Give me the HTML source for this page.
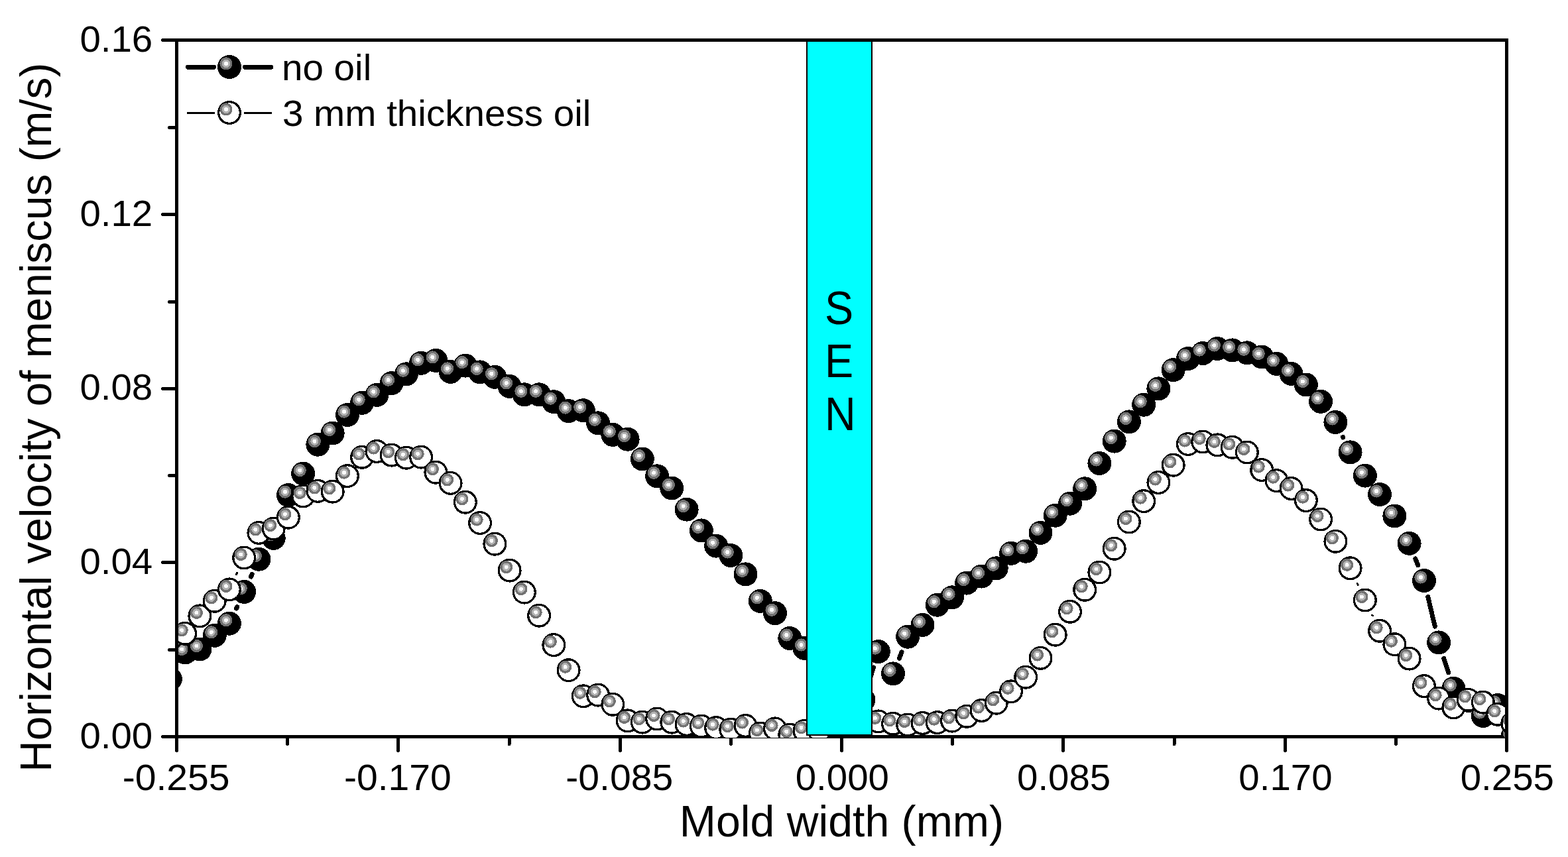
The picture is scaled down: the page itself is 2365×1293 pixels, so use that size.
<!DOCTYPE html>
<html lang="en"><head><meta charset="utf-8"><title>Horizontal velocity of meniscus</title>
<style>html,body{margin:0;padding:0;background:#fff}body{width:2365px;height:1293px;overflow:hidden}svg{display:block}text{font-family:"Liberation Sans",Arial,Helvetica,sans-serif;fill:#000}</style>
</head><body>
<svg width="2365" height="1293" viewBox="0 0 2365 1293" shape-rendering="crispEdges">
<defs>
<clipPath id="pc"><rect x="269" y="63" width="2001" height="1050"/></clipPath>
</defs>
<rect width="2365" height="1293" fill="#fff"/>
<path d="M264 1111.5H2275" stroke="#000" stroke-width="5" fill="none"/>
<path d="M266.5 1114V1132.5M433.7 1114V1122.5M600.8 1114V1132.5M768 1114V1122.5M935.2 1114V1132.5M1102.3 1114V1122.5M1269.5 1114V1132.5M1436.7 1114V1122.5M1603.8 1114V1132.5M1771 1114V1122.5M1938.2 1114V1132.5M2105.3 1114V1122.5M2272.5 1114V1132.5" stroke="#000" stroke-width="5" fill="none" stroke-linecap="round"/>
<g clip-path="url(#pc)">
<path d="M356.5 918L357.6 915.6M378.5 870.1L380.1 866.5M420.8 788.3L426.8 770.7M1309.8 1031.9L1317.4 1007M1356.3 993.2L1360 983.9M2025.4 659.4L2025.6 660M2134.8 843L2138.7 852.8M2153.7 900.3L2164.3 945.1M2177.7 993.2L2184.7 1014.9M2269.8 1086.6L2270.6 1088.4" fill="none" stroke="#000" stroke-width="7" stroke-linecap="round"/>
<circle cx="256.9" cy="1024.5" r="18"/><circle cx="251.9" cy="1019.5" r="9.6" fill="#727272"/><circle cx="251.9" cy="1019.5" r="6.1" fill="#b2b2b2"/><circle cx="251.9" cy="1019.5" r="3.0" fill="#fbfbfb"/>
<circle cx="279.2" cy="984.5" r="18"/><circle cx="274.2" cy="979.5" r="9.6" fill="#727272"/><circle cx="274.2" cy="979.5" r="6.1" fill="#b2b2b2"/><circle cx="274.2" cy="979.5" r="3.0" fill="#fbfbfb"/>
<circle cx="301.4" cy="979.5" r="18"/><circle cx="296.4" cy="974.5" r="9.6" fill="#727272"/><circle cx="296.4" cy="974.5" r="6.1" fill="#b2b2b2"/><circle cx="296.4" cy="974.5" r="3.0" fill="#fbfbfb"/>
<circle cx="323.7" cy="958.8" r="18"/><circle cx="318.7" cy="953.8" r="9.6" fill="#727272"/><circle cx="318.7" cy="953.8" r="6.1" fill="#b2b2b2"/><circle cx="318.7" cy="953.8" r="3.0" fill="#fbfbfb"/>
<circle cx="345.9" cy="940.7" r="18"/><circle cx="340.9" cy="935.7" r="9.6" fill="#727272"/><circle cx="340.9" cy="935.7" r="6.1" fill="#b2b2b2"/><circle cx="340.9" cy="935.7" r="3.0" fill="#fbfbfb"/>
<circle cx="368.2" cy="892.9" r="18"/><circle cx="363.2" cy="887.9" r="9.6" fill="#727272"/><circle cx="363.2" cy="887.9" r="6.1" fill="#b2b2b2"/><circle cx="363.2" cy="887.9" r="3.0" fill="#fbfbfb"/>
<circle cx="390.4" cy="843.7" r="18"/><circle cx="385.4" cy="838.7" r="9.6" fill="#727272"/><circle cx="385.4" cy="838.7" r="6.1" fill="#b2b2b2"/><circle cx="385.4" cy="838.7" r="3.0" fill="#fbfbfb"/>
<circle cx="412.7" cy="811.9" r="18"/><circle cx="407.7" cy="806.9" r="9.6" fill="#727272"/><circle cx="407.7" cy="806.9" r="6.1" fill="#b2b2b2"/><circle cx="407.7" cy="806.9" r="3.0" fill="#fbfbfb"/>
<circle cx="434.9" cy="747.1" r="18"/><circle cx="429.9" cy="742.1" r="9.6" fill="#727272"/><circle cx="429.9" cy="742.1" r="6.1" fill="#b2b2b2"/><circle cx="429.9" cy="742.1" r="3.0" fill="#fbfbfb"/>
<circle cx="457.2" cy="714.6" r="18"/><circle cx="452.2" cy="709.6" r="9.6" fill="#727272"/><circle cx="452.2" cy="709.6" r="6.1" fill="#b2b2b2"/><circle cx="452.2" cy="709.6" r="3.0" fill="#fbfbfb"/>
<circle cx="479.4" cy="670.7" r="18"/><circle cx="474.4" cy="665.7" r="9.6" fill="#727272"/><circle cx="474.4" cy="665.7" r="6.1" fill="#b2b2b2"/><circle cx="474.4" cy="665.7" r="3.0" fill="#fbfbfb"/>
<circle cx="501.7" cy="653.5" r="18"/><circle cx="496.7" cy="648.5" r="9.6" fill="#727272"/><circle cx="496.7" cy="648.5" r="6.1" fill="#b2b2b2"/><circle cx="496.7" cy="648.5" r="3.0" fill="#fbfbfb"/>
<circle cx="523.9" cy="626.1" r="18"/><circle cx="518.9" cy="621.1" r="9.6" fill="#727272"/><circle cx="518.9" cy="621.1" r="6.1" fill="#b2b2b2"/><circle cx="518.9" cy="621.1" r="3.0" fill="#fbfbfb"/>
<circle cx="546.1" cy="607.8" r="18"/><circle cx="541.1" cy="602.8" r="9.6" fill="#727272"/><circle cx="541.1" cy="602.8" r="6.1" fill="#b2b2b2"/><circle cx="541.1" cy="602.8" r="3.0" fill="#fbfbfb"/>
<circle cx="568.4" cy="595.9" r="18"/><circle cx="563.4" cy="590.9" r="9.6" fill="#727272"/><circle cx="563.4" cy="590.9" r="6.1" fill="#b2b2b2"/><circle cx="563.4" cy="590.9" r="3.0" fill="#fbfbfb"/>
<circle cx="590.6" cy="578.2" r="18"/><circle cx="585.6" cy="573.2" r="9.6" fill="#727272"/><circle cx="585.6" cy="573.2" r="6.1" fill="#b2b2b2"/><circle cx="585.6" cy="573.2" r="3.0" fill="#fbfbfb"/>
<circle cx="612.9" cy="564.3" r="18"/><circle cx="607.9" cy="559.3" r="9.6" fill="#727272"/><circle cx="607.9" cy="559.3" r="6.1" fill="#b2b2b2"/><circle cx="607.9" cy="559.3" r="3.0" fill="#fbfbfb"/>
<circle cx="635.1" cy="547.8" r="18"/><circle cx="630.1" cy="542.8" r="9.6" fill="#727272"/><circle cx="630.1" cy="542.8" r="6.1" fill="#b2b2b2"/><circle cx="630.1" cy="542.8" r="3.0" fill="#fbfbfb"/>
<circle cx="657.4" cy="543.9" r="18"/><circle cx="652.4" cy="538.9" r="9.6" fill="#727272"/><circle cx="652.4" cy="538.9" r="6.1" fill="#b2b2b2"/><circle cx="652.4" cy="538.9" r="3.0" fill="#fbfbfb"/>
<circle cx="679.6" cy="560.9" r="18"/><circle cx="674.6" cy="555.9" r="9.6" fill="#727272"/><circle cx="674.6" cy="555.9" r="6.1" fill="#b2b2b2"/><circle cx="674.6" cy="555.9" r="3.0" fill="#fbfbfb"/>
<circle cx="701.9" cy="551.6" r="18"/><circle cx="696.9" cy="546.6" r="9.6" fill="#727272"/><circle cx="696.9" cy="546.6" r="6.1" fill="#b2b2b2"/><circle cx="696.9" cy="546.6" r="3.0" fill="#fbfbfb"/>
<circle cx="724.1" cy="561.4" r="18"/><circle cx="719.1" cy="556.4" r="9.6" fill="#727272"/><circle cx="719.1" cy="556.4" r="6.1" fill="#b2b2b2"/><circle cx="719.1" cy="556.4" r="3.0" fill="#fbfbfb"/>
<circle cx="746.4" cy="568.8" r="18"/><circle cx="741.4" cy="563.8" r="9.6" fill="#727272"/><circle cx="741.4" cy="563.8" r="6.1" fill="#b2b2b2"/><circle cx="741.4" cy="563.8" r="3.0" fill="#fbfbfb"/>
<circle cx="768.6" cy="582.9" r="18"/><circle cx="763.6" cy="577.9" r="9.6" fill="#727272"/><circle cx="763.6" cy="577.9" r="6.1" fill="#b2b2b2"/><circle cx="763.6" cy="577.9" r="3.0" fill="#fbfbfb"/>
<circle cx="790.9" cy="595.3" r="18"/><circle cx="785.9" cy="590.3" r="9.6" fill="#727272"/><circle cx="785.9" cy="590.3" r="6.1" fill="#b2b2b2"/><circle cx="785.9" cy="590.3" r="3.0" fill="#fbfbfb"/>
<circle cx="813.1" cy="595.3" r="18"/><circle cx="808.1" cy="590.3" r="9.6" fill="#727272"/><circle cx="808.1" cy="590.3" r="6.1" fill="#b2b2b2"/><circle cx="808.1" cy="590.3" r="3.0" fill="#fbfbfb"/>
<circle cx="835.3" cy="606.2" r="18"/><circle cx="830.3" cy="601.2" r="9.6" fill="#727272"/><circle cx="830.3" cy="601.2" r="6.1" fill="#b2b2b2"/><circle cx="830.3" cy="601.2" r="3.0" fill="#fbfbfb"/>
<circle cx="857.6" cy="620.1" r="18"/><circle cx="852.6" cy="615.1" r="9.6" fill="#727272"/><circle cx="852.6" cy="615.1" r="6.1" fill="#b2b2b2"/><circle cx="852.6" cy="615.1" r="3.0" fill="#fbfbfb"/>
<circle cx="879.8" cy="619.2" r="18"/><circle cx="874.8" cy="614.2" r="9.6" fill="#727272"/><circle cx="874.8" cy="614.2" r="6.1" fill="#b2b2b2"/><circle cx="874.8" cy="614.2" r="3.0" fill="#fbfbfb"/>
<circle cx="902.1" cy="638.3" r="18"/><circle cx="897.1" cy="633.3" r="9.6" fill="#727272"/><circle cx="897.1" cy="633.3" r="6.1" fill="#b2b2b2"/><circle cx="897.1" cy="633.3" r="3.0" fill="#fbfbfb"/>
<circle cx="924.3" cy="655.9" r="18"/><circle cx="919.3" cy="650.9" r="9.6" fill="#727272"/><circle cx="919.3" cy="650.9" r="6.1" fill="#b2b2b2"/><circle cx="919.3" cy="650.9" r="3.0" fill="#fbfbfb"/>
<circle cx="946.6" cy="662.7" r="18"/><circle cx="941.6" cy="657.7" r="9.6" fill="#727272"/><circle cx="941.6" cy="657.7" r="6.1" fill="#b2b2b2"/><circle cx="941.6" cy="657.7" r="3.0" fill="#fbfbfb"/>
<circle cx="968.8" cy="692.5" r="18"/><circle cx="963.8" cy="687.5" r="9.6" fill="#727272"/><circle cx="963.8" cy="687.5" r="6.1" fill="#b2b2b2"/><circle cx="963.8" cy="687.5" r="3.0" fill="#fbfbfb"/>
<circle cx="991.1" cy="718.3" r="18"/><circle cx="986.1" cy="713.3" r="9.6" fill="#727272"/><circle cx="986.1" cy="713.3" r="6.1" fill="#b2b2b2"/><circle cx="986.1" cy="713.3" r="3.0" fill="#fbfbfb"/>
<circle cx="1013.3" cy="736.5" r="18"/><circle cx="1008.3" cy="731.5" r="9.6" fill="#727272"/><circle cx="1008.3" cy="731.5" r="6.1" fill="#b2b2b2"/><circle cx="1008.3" cy="731.5" r="3.0" fill="#fbfbfb"/>
<circle cx="1035.6" cy="768.6" r="18"/><circle cx="1030.6" cy="763.6" r="9.6" fill="#727272"/><circle cx="1030.6" cy="763.6" r="6.1" fill="#b2b2b2"/><circle cx="1030.6" cy="763.6" r="3.0" fill="#fbfbfb"/>
<circle cx="1057.8" cy="800.4" r="18"/><circle cx="1052.8" cy="795.4" r="9.6" fill="#727272"/><circle cx="1052.8" cy="795.4" r="6.1" fill="#b2b2b2"/><circle cx="1052.8" cy="795.4" r="3.0" fill="#fbfbfb"/>
<circle cx="1080.1" cy="823.6" r="18"/><circle cx="1075.1" cy="818.6" r="9.6" fill="#727272"/><circle cx="1075.1" cy="818.6" r="6.1" fill="#b2b2b2"/><circle cx="1075.1" cy="818.6" r="3.0" fill="#fbfbfb"/>
<circle cx="1102.3" cy="838" r="18"/><circle cx="1097.3" cy="833" r="9.6" fill="#727272"/><circle cx="1097.3" cy="833" r="6.1" fill="#b2b2b2"/><circle cx="1097.3" cy="833" r="3.0" fill="#fbfbfb"/>
<circle cx="1124.5" cy="866.4" r="18"/><circle cx="1119.5" cy="861.4" r="9.6" fill="#727272"/><circle cx="1119.5" cy="861.4" r="6.1" fill="#b2b2b2"/><circle cx="1119.5" cy="861.4" r="3.0" fill="#fbfbfb"/>
<circle cx="1146.8" cy="906.9" r="18"/><circle cx="1141.8" cy="901.9" r="9.6" fill="#727272"/><circle cx="1141.8" cy="901.9" r="6.1" fill="#b2b2b2"/><circle cx="1141.8" cy="901.9" r="3.0" fill="#fbfbfb"/>
<circle cx="1169" cy="925.2" r="18"/><circle cx="1164" cy="920.2" r="9.6" fill="#727272"/><circle cx="1164" cy="920.2" r="6.1" fill="#b2b2b2"/><circle cx="1164" cy="920.2" r="3.0" fill="#fbfbfb"/>
<circle cx="1191.3" cy="963" r="18"/><circle cx="1186.3" cy="958" r="9.6" fill="#727272"/><circle cx="1186.3" cy="958" r="6.1" fill="#b2b2b2"/><circle cx="1186.3" cy="958" r="3.0" fill="#fbfbfb"/>
<circle cx="1213.5" cy="978" r="18"/><circle cx="1208.5" cy="973" r="9.6" fill="#727272"/><circle cx="1208.5" cy="973" r="6.1" fill="#b2b2b2"/><circle cx="1208.5" cy="973" r="3.0" fill="#fbfbfb"/>
<circle cx="1235.8" cy="1000" r="18"/><circle cx="1230.8" cy="995" r="9.6" fill="#727272"/><circle cx="1230.8" cy="995" r="6.1" fill="#b2b2b2"/><circle cx="1230.8" cy="995" r="3.0" fill="#fbfbfb"/>
<circle cx="1258" cy="1020" r="18"/><circle cx="1253" cy="1015" r="9.6" fill="#727272"/><circle cx="1253" cy="1015" r="6.1" fill="#b2b2b2"/><circle cx="1253" cy="1015" r="3.0" fill="#fbfbfb"/>
<circle cx="1280.3" cy="1040" r="18"/><circle cx="1275.3" cy="1035" r="9.6" fill="#727272"/><circle cx="1275.3" cy="1035" r="6.1" fill="#b2b2b2"/><circle cx="1275.3" cy="1035" r="3.0" fill="#fbfbfb"/>
<circle cx="1302.5" cy="1055.8" r="18"/><circle cx="1297.5" cy="1050.8" r="9.6" fill="#727272"/><circle cx="1297.5" cy="1050.8" r="6.1" fill="#b2b2b2"/><circle cx="1297.5" cy="1050.8" r="3.0" fill="#fbfbfb"/>
<circle cx="1324.8" cy="983.1" r="18"/><circle cx="1319.8" cy="978.1" r="9.6" fill="#727272"/><circle cx="1319.8" cy="978.1" r="6.1" fill="#b2b2b2"/><circle cx="1319.8" cy="978.1" r="3.0" fill="#fbfbfb"/>
<circle cx="1347" cy="1016.4" r="18"/><circle cx="1342" cy="1011.4" r="9.6" fill="#727272"/><circle cx="1342" cy="1011.4" r="6.1" fill="#b2b2b2"/><circle cx="1342" cy="1011.4" r="3.0" fill="#fbfbfb"/>
<circle cx="1369.2" cy="960.7" r="18"/><circle cx="1364.2" cy="955.7" r="9.6" fill="#727272"/><circle cx="1364.2" cy="955.7" r="6.1" fill="#b2b2b2"/><circle cx="1364.2" cy="955.7" r="3.0" fill="#fbfbfb"/>
<circle cx="1391.5" cy="943" r="18"/><circle cx="1386.5" cy="938" r="9.6" fill="#727272"/><circle cx="1386.5" cy="938" r="6.1" fill="#b2b2b2"/><circle cx="1386.5" cy="938" r="3.0" fill="#fbfbfb"/>
<circle cx="1413.7" cy="912.7" r="18"/><circle cx="1408.7" cy="907.7" r="9.6" fill="#727272"/><circle cx="1408.7" cy="907.7" r="6.1" fill="#b2b2b2"/><circle cx="1408.7" cy="907.7" r="3.0" fill="#fbfbfb"/>
<circle cx="1436" cy="901.3" r="18"/><circle cx="1431" cy="896.3" r="9.6" fill="#727272"/><circle cx="1431" cy="896.3" r="6.1" fill="#b2b2b2"/><circle cx="1431" cy="896.3" r="3.0" fill="#fbfbfb"/>
<circle cx="1458.2" cy="879.6" r="18"/><circle cx="1453.2" cy="874.6" r="9.6" fill="#727272"/><circle cx="1453.2" cy="874.6" r="6.1" fill="#b2b2b2"/><circle cx="1453.2" cy="874.6" r="3.0" fill="#fbfbfb"/>
<circle cx="1480.5" cy="869.5" r="18"/><circle cx="1475.5" cy="864.5" r="9.6" fill="#727272"/><circle cx="1475.5" cy="864.5" r="6.1" fill="#b2b2b2"/><circle cx="1475.5" cy="864.5" r="3.0" fill="#fbfbfb"/>
<circle cx="1502.7" cy="857.3" r="18"/><circle cx="1497.7" cy="852.3" r="9.6" fill="#727272"/><circle cx="1497.7" cy="852.3" r="6.1" fill="#b2b2b2"/><circle cx="1497.7" cy="852.3" r="3.0" fill="#fbfbfb"/>
<circle cx="1525" cy="834.8" r="18"/><circle cx="1520" cy="829.8" r="9.6" fill="#727272"/><circle cx="1520" cy="829.8" r="6.1" fill="#b2b2b2"/><circle cx="1520" cy="829.8" r="3.0" fill="#fbfbfb"/>
<circle cx="1547.2" cy="831.7" r="18"/><circle cx="1542.2" cy="826.7" r="9.6" fill="#727272"/><circle cx="1542.2" cy="826.7" r="6.1" fill="#b2b2b2"/><circle cx="1542.2" cy="826.7" r="3.0" fill="#fbfbfb"/>
<circle cx="1569.5" cy="803.8" r="18"/><circle cx="1564.5" cy="798.8" r="9.6" fill="#727272"/><circle cx="1564.5" cy="798.8" r="6.1" fill="#b2b2b2"/><circle cx="1564.5" cy="798.8" r="3.0" fill="#fbfbfb"/>
<circle cx="1591.7" cy="777.7" r="18"/><circle cx="1586.7" cy="772.7" r="9.6" fill="#727272"/><circle cx="1586.7" cy="772.7" r="6.1" fill="#b2b2b2"/><circle cx="1586.7" cy="772.7" r="3.0" fill="#fbfbfb"/>
<circle cx="1614" cy="759.7" r="18"/><circle cx="1609" cy="754.7" r="9.6" fill="#727272"/><circle cx="1609" cy="754.7" r="6.1" fill="#b2b2b2"/><circle cx="1609" cy="754.7" r="3.0" fill="#fbfbfb"/>
<circle cx="1636.2" cy="737.3" r="18"/><circle cx="1631.2" cy="732.3" r="9.6" fill="#727272"/><circle cx="1631.2" cy="732.3" r="6.1" fill="#b2b2b2"/><circle cx="1631.2" cy="732.3" r="3.0" fill="#fbfbfb"/>
<circle cx="1658.4" cy="699" r="18"/><circle cx="1653.4" cy="694" r="9.6" fill="#727272"/><circle cx="1653.4" cy="694" r="6.1" fill="#b2b2b2"/><circle cx="1653.4" cy="694" r="3.0" fill="#fbfbfb"/>
<circle cx="1680.7" cy="665.6" r="18"/><circle cx="1675.7" cy="660.6" r="9.6" fill="#727272"/><circle cx="1675.7" cy="660.6" r="6.1" fill="#b2b2b2"/><circle cx="1675.7" cy="660.6" r="3.0" fill="#fbfbfb"/>
<circle cx="1702.9" cy="636.4" r="18"/><circle cx="1697.9" cy="631.4" r="9.6" fill="#727272"/><circle cx="1697.9" cy="631.4" r="6.1" fill="#b2b2b2"/><circle cx="1697.9" cy="631.4" r="3.0" fill="#fbfbfb"/>
<circle cx="1725.2" cy="610.7" r="18"/><circle cx="1720.2" cy="605.7" r="9.6" fill="#727272"/><circle cx="1720.2" cy="605.7" r="6.1" fill="#b2b2b2"/><circle cx="1720.2" cy="605.7" r="3.0" fill="#fbfbfb"/>
<circle cx="1747.4" cy="586.4" r="18"/><circle cx="1742.4" cy="581.4" r="9.6" fill="#727272"/><circle cx="1742.4" cy="581.4" r="6.1" fill="#b2b2b2"/><circle cx="1742.4" cy="581.4" r="3.0" fill="#fbfbfb"/>
<circle cx="1769.7" cy="558.2" r="18"/><circle cx="1764.7" cy="553.2" r="9.6" fill="#727272"/><circle cx="1764.7" cy="553.2" r="6.1" fill="#b2b2b2"/><circle cx="1764.7" cy="553.2" r="3.0" fill="#fbfbfb"/>
<circle cx="1791.9" cy="541.1" r="18"/><circle cx="1786.9" cy="536.1" r="9.6" fill="#727272"/><circle cx="1786.9" cy="536.1" r="6.1" fill="#b2b2b2"/><circle cx="1786.9" cy="536.1" r="3.0" fill="#fbfbfb"/>
<circle cx="1814.2" cy="533.1" r="18"/><circle cx="1809.2" cy="528.1" r="9.6" fill="#727272"/><circle cx="1809.2" cy="528.1" r="6.1" fill="#b2b2b2"/><circle cx="1809.2" cy="528.1" r="3.0" fill="#fbfbfb"/>
<circle cx="1836.4" cy="526" r="18"/><circle cx="1831.4" cy="521" r="9.6" fill="#727272"/><circle cx="1831.4" cy="521" r="6.1" fill="#b2b2b2"/><circle cx="1831.4" cy="521" r="3.0" fill="#fbfbfb"/>
<circle cx="1858.7" cy="528.4" r="18"/><circle cx="1853.7" cy="523.4" r="9.6" fill="#727272"/><circle cx="1853.7" cy="523.4" r="6.1" fill="#b2b2b2"/><circle cx="1853.7" cy="523.4" r="3.0" fill="#fbfbfb"/>
<circle cx="1880.9" cy="532.3" r="18"/><circle cx="1875.9" cy="527.3" r="9.6" fill="#727272"/><circle cx="1875.9" cy="527.3" r="6.1" fill="#b2b2b2"/><circle cx="1875.9" cy="527.3" r="3.0" fill="#fbfbfb"/>
<circle cx="1903.2" cy="538.5" r="18"/><circle cx="1898.2" cy="533.5" r="9.6" fill="#727272"/><circle cx="1898.2" cy="533.5" r="6.1" fill="#b2b2b2"/><circle cx="1898.2" cy="533.5" r="3.0" fill="#fbfbfb"/>
<circle cx="1925.4" cy="548.9" r="18"/><circle cx="1920.4" cy="543.9" r="9.6" fill="#727272"/><circle cx="1920.4" cy="543.9" r="6.1" fill="#b2b2b2"/><circle cx="1920.4" cy="543.9" r="3.0" fill="#fbfbfb"/>
<circle cx="1947.6" cy="563.9" r="18"/><circle cx="1942.6" cy="558.9" r="9.6" fill="#727272"/><circle cx="1942.6" cy="558.9" r="6.1" fill="#b2b2b2"/><circle cx="1942.6" cy="558.9" r="3.0" fill="#fbfbfb"/>
<circle cx="1969.9" cy="580.5" r="18"/><circle cx="1964.9" cy="575.5" r="9.6" fill="#727272"/><circle cx="1964.9" cy="575.5" r="6.1" fill="#b2b2b2"/><circle cx="1964.9" cy="575.5" r="3.0" fill="#fbfbfb"/>
<circle cx="1992.1" cy="605.8" r="18"/><circle cx="1987.1" cy="600.8" r="9.6" fill="#727272"/><circle cx="1987.1" cy="600.8" r="6.1" fill="#b2b2b2"/><circle cx="1987.1" cy="600.8" r="3.0" fill="#fbfbfb"/>
<circle cx="2014.4" cy="637" r="18"/><circle cx="2009.4" cy="632" r="9.6" fill="#727272"/><circle cx="2009.4" cy="632" r="6.1" fill="#b2b2b2"/><circle cx="2009.4" cy="632" r="3.0" fill="#fbfbfb"/>
<circle cx="2036.6" cy="682.4" r="18"/><circle cx="2031.6" cy="677.4" r="9.6" fill="#727272"/><circle cx="2031.6" cy="677.4" r="6.1" fill="#b2b2b2"/><circle cx="2031.6" cy="677.4" r="3.0" fill="#fbfbfb"/>
<circle cx="2058.9" cy="717.6" r="18"/><circle cx="2053.9" cy="712.6" r="9.6" fill="#727272"/><circle cx="2053.9" cy="712.6" r="6.1" fill="#b2b2b2"/><circle cx="2053.9" cy="712.6" r="3.0" fill="#fbfbfb"/>
<circle cx="2081.1" cy="746" r="18"/><circle cx="2076.1" cy="741" r="9.6" fill="#727272"/><circle cx="2076.1" cy="741" r="6.1" fill="#b2b2b2"/><circle cx="2076.1" cy="741" r="3.0" fill="#fbfbfb"/>
<circle cx="2103.4" cy="778.5" r="18"/><circle cx="2098.4" cy="773.5" r="9.6" fill="#727272"/><circle cx="2098.4" cy="773.5" r="6.1" fill="#b2b2b2"/><circle cx="2098.4" cy="773.5" r="3.0" fill="#fbfbfb"/>
<circle cx="2125.6" cy="819.8" r="18"/><circle cx="2120.6" cy="814.8" r="9.6" fill="#727272"/><circle cx="2120.6" cy="814.8" r="6.1" fill="#b2b2b2"/><circle cx="2120.6" cy="814.8" r="3.0" fill="#fbfbfb"/>
<circle cx="2147.9" cy="876" r="18"/><circle cx="2142.9" cy="871" r="9.6" fill="#727272"/><circle cx="2142.9" cy="871" r="6.1" fill="#b2b2b2"/><circle cx="2142.9" cy="871" r="3.0" fill="#fbfbfb"/>
<circle cx="2170.1" cy="969.4" r="18"/><circle cx="2165.1" cy="964.4" r="9.6" fill="#727272"/><circle cx="2165.1" cy="964.4" r="6.1" fill="#b2b2b2"/><circle cx="2165.1" cy="964.4" r="3.0" fill="#fbfbfb"/>
<circle cx="2192.4" cy="1038.7" r="18"/><circle cx="2187.4" cy="1033.7" r="9.6" fill="#727272"/><circle cx="2187.4" cy="1033.7" r="6.1" fill="#b2b2b2"/><circle cx="2187.4" cy="1033.7" r="3.0" fill="#fbfbfb"/>
<circle cx="2214.6" cy="1057" r="18"/><circle cx="2209.6" cy="1052" r="9.6" fill="#727272"/><circle cx="2209.6" cy="1052" r="6.1" fill="#b2b2b2"/><circle cx="2209.6" cy="1052" r="3.0" fill="#fbfbfb"/>
<circle cx="2236.8" cy="1080" r="18"/><circle cx="2231.8" cy="1075" r="9.6" fill="#727272"/><circle cx="2231.8" cy="1075" r="6.1" fill="#b2b2b2"/><circle cx="2231.8" cy="1075" r="3.0" fill="#fbfbfb"/>
<circle cx="2259.1" cy="1064" r="18"/><circle cx="2254.1" cy="1059" r="9.6" fill="#727272"/><circle cx="2254.1" cy="1059" r="6.1" fill="#b2b2b2"/><circle cx="2254.1" cy="1059" r="3.0" fill="#fbfbfb"/>
<circle cx="2281.3" cy="1111" r="18"/><circle cx="2276.3" cy="1106" r="9.6" fill="#727272"/><circle cx="2276.3" cy="1106" r="6.1" fill="#b2b2b2"/><circle cx="2276.3" cy="1106" r="3.0" fill="#fbfbfb"/>
<path d="M356.6 866.5L357.5 864.4M2047.2 880.3L2048.3 882.5M2069.8 928.3L2070.2 929" fill="none" stroke="#000" stroke-width="3" stroke-linecap="round"/>
<circle cx="256.9" cy="964.5" r="16.35" fill="#fff" stroke="#000" stroke-width="3.3"/><circle cx="251.9" cy="959.5" r="9.6" fill="#727272"/><circle cx="251.9" cy="959.5" r="6.1" fill="#b2b2b2"/><circle cx="251.9" cy="959.5" r="3.0" fill="#fbfbfb"/>
<circle cx="279.2" cy="955.8" r="16.35" fill="#fff" stroke="#000" stroke-width="3.3"/><circle cx="274.2" cy="950.8" r="9.6" fill="#727272"/><circle cx="274.2" cy="950.8" r="6.1" fill="#b2b2b2"/><circle cx="274.2" cy="950.8" r="3.0" fill="#fbfbfb"/>
<circle cx="301.4" cy="929.4" r="16.35" fill="#fff" stroke="#000" stroke-width="3.3"/><circle cx="296.4" cy="924.4" r="9.6" fill="#727272"/><circle cx="296.4" cy="924.4" r="6.1" fill="#b2b2b2"/><circle cx="296.4" cy="924.4" r="3.0" fill="#fbfbfb"/>
<circle cx="323.7" cy="906.8" r="16.35" fill="#fff" stroke="#000" stroke-width="3.3"/><circle cx="318.7" cy="901.8" r="9.6" fill="#727272"/><circle cx="318.7" cy="901.8" r="6.1" fill="#b2b2b2"/><circle cx="318.7" cy="901.8" r="3.0" fill="#fbfbfb"/>
<circle cx="345.9" cy="889.4" r="16.35" fill="#fff" stroke="#000" stroke-width="3.3"/><circle cx="340.9" cy="884.4" r="9.6" fill="#727272"/><circle cx="340.9" cy="884.4" r="6.1" fill="#b2b2b2"/><circle cx="340.9" cy="884.4" r="3.0" fill="#fbfbfb"/>
<circle cx="368.2" cy="841.5" r="16.35" fill="#fff" stroke="#000" stroke-width="3.3"/><circle cx="363.2" cy="836.5" r="9.6" fill="#727272"/><circle cx="363.2" cy="836.5" r="6.1" fill="#b2b2b2"/><circle cx="363.2" cy="836.5" r="3.0" fill="#fbfbfb"/>
<circle cx="390.4" cy="803.9" r="16.35" fill="#fff" stroke="#000" stroke-width="3.3"/><circle cx="385.4" cy="798.9" r="9.6" fill="#727272"/><circle cx="385.4" cy="798.9" r="6.1" fill="#b2b2b2"/><circle cx="385.4" cy="798.9" r="3.0" fill="#fbfbfb"/>
<circle cx="412.7" cy="797.6" r="16.35" fill="#fff" stroke="#000" stroke-width="3.3"/><circle cx="407.7" cy="792.6" r="9.6" fill="#727272"/><circle cx="407.7" cy="792.6" r="6.1" fill="#b2b2b2"/><circle cx="407.7" cy="792.6" r="3.0" fill="#fbfbfb"/>
<circle cx="434.9" cy="780.7" r="16.35" fill="#fff" stroke="#000" stroke-width="3.3"/><circle cx="429.9" cy="775.7" r="9.6" fill="#727272"/><circle cx="429.9" cy="775.7" r="6.1" fill="#b2b2b2"/><circle cx="429.9" cy="775.7" r="3.0" fill="#fbfbfb"/>
<circle cx="457.2" cy="748.5" r="16.35" fill="#fff" stroke="#000" stroke-width="3.3"/><circle cx="452.2" cy="743.5" r="9.6" fill="#727272"/><circle cx="452.2" cy="743.5" r="6.1" fill="#b2b2b2"/><circle cx="452.2" cy="743.5" r="3.0" fill="#fbfbfb"/>
<circle cx="479.4" cy="740.9" r="16.35" fill="#fff" stroke="#000" stroke-width="3.3"/><circle cx="474.4" cy="735.9" r="9.6" fill="#727272"/><circle cx="474.4" cy="735.9" r="6.1" fill="#b2b2b2"/><circle cx="474.4" cy="735.9" r="3.0" fill="#fbfbfb"/>
<circle cx="501.7" cy="741.7" r="16.35" fill="#fff" stroke="#000" stroke-width="3.3"/><circle cx="496.7" cy="736.7" r="9.6" fill="#727272"/><circle cx="496.7" cy="736.7" r="6.1" fill="#b2b2b2"/><circle cx="496.7" cy="736.7" r="3.0" fill="#fbfbfb"/>
<circle cx="523.9" cy="718.1" r="16.35" fill="#fff" stroke="#000" stroke-width="3.3"/><circle cx="518.9" cy="713.1" r="9.6" fill="#727272"/><circle cx="518.9" cy="713.1" r="6.1" fill="#b2b2b2"/><circle cx="518.9" cy="713.1" r="3.0" fill="#fbfbfb"/>
<circle cx="546.1" cy="689.8" r="16.35" fill="#fff" stroke="#000" stroke-width="3.3"/><circle cx="541.1" cy="684.8" r="9.6" fill="#727272"/><circle cx="541.1" cy="684.8" r="6.1" fill="#b2b2b2"/><circle cx="541.1" cy="684.8" r="3.0" fill="#fbfbfb"/>
<circle cx="568.4" cy="681" r="16.35" fill="#fff" stroke="#000" stroke-width="3.3"/><circle cx="563.4" cy="676" r="9.6" fill="#727272"/><circle cx="563.4" cy="676" r="6.1" fill="#b2b2b2"/><circle cx="563.4" cy="676" r="3.0" fill="#fbfbfb"/>
<circle cx="590.6" cy="686.6" r="16.35" fill="#fff" stroke="#000" stroke-width="3.3"/><circle cx="585.6" cy="681.6" r="9.6" fill="#727272"/><circle cx="585.6" cy="681.6" r="6.1" fill="#b2b2b2"/><circle cx="585.6" cy="681.6" r="3.0" fill="#fbfbfb"/>
<circle cx="612.9" cy="690.7" r="16.35" fill="#fff" stroke="#000" stroke-width="3.3"/><circle cx="607.9" cy="685.7" r="9.6" fill="#727272"/><circle cx="607.9" cy="685.7" r="6.1" fill="#b2b2b2"/><circle cx="607.9" cy="685.7" r="3.0" fill="#fbfbfb"/>
<circle cx="635.1" cy="689.6" r="16.35" fill="#fff" stroke="#000" stroke-width="3.3"/><circle cx="630.1" cy="684.6" r="9.6" fill="#727272"/><circle cx="630.1" cy="684.6" r="6.1" fill="#b2b2b2"/><circle cx="630.1" cy="684.6" r="3.0" fill="#fbfbfb"/>
<circle cx="657.4" cy="712.7" r="16.35" fill="#fff" stroke="#000" stroke-width="3.3"/><circle cx="652.4" cy="707.7" r="9.6" fill="#727272"/><circle cx="652.4" cy="707.7" r="6.1" fill="#b2b2b2"/><circle cx="652.4" cy="707.7" r="3.0" fill="#fbfbfb"/>
<circle cx="679.6" cy="728.9" r="16.35" fill="#fff" stroke="#000" stroke-width="3.3"/><circle cx="674.6" cy="723.9" r="9.6" fill="#727272"/><circle cx="674.6" cy="723.9" r="6.1" fill="#b2b2b2"/><circle cx="674.6" cy="723.9" r="3.0" fill="#fbfbfb"/>
<circle cx="701.9" cy="757.7" r="16.35" fill="#fff" stroke="#000" stroke-width="3.3"/><circle cx="696.9" cy="752.7" r="9.6" fill="#727272"/><circle cx="696.9" cy="752.7" r="6.1" fill="#b2b2b2"/><circle cx="696.9" cy="752.7" r="3.0" fill="#fbfbfb"/>
<circle cx="724.1" cy="789" r="16.35" fill="#fff" stroke="#000" stroke-width="3.3"/><circle cx="719.1" cy="784" r="9.6" fill="#727272"/><circle cx="719.1" cy="784" r="6.1" fill="#b2b2b2"/><circle cx="719.1" cy="784" r="3.0" fill="#fbfbfb"/>
<circle cx="746.4" cy="820.7" r="16.35" fill="#fff" stroke="#000" stroke-width="3.3"/><circle cx="741.4" cy="815.7" r="9.6" fill="#727272"/><circle cx="741.4" cy="815.7" r="6.1" fill="#b2b2b2"/><circle cx="741.4" cy="815.7" r="3.0" fill="#fbfbfb"/>
<circle cx="768.6" cy="860.6" r="16.35" fill="#fff" stroke="#000" stroke-width="3.3"/><circle cx="763.6" cy="855.6" r="9.6" fill="#727272"/><circle cx="763.6" cy="855.6" r="6.1" fill="#b2b2b2"/><circle cx="763.6" cy="855.6" r="3.0" fill="#fbfbfb"/>
<circle cx="790.9" cy="893.6" r="16.35" fill="#fff" stroke="#000" stroke-width="3.3"/><circle cx="785.9" cy="888.6" r="9.6" fill="#727272"/><circle cx="785.9" cy="888.6" r="6.1" fill="#b2b2b2"/><circle cx="785.9" cy="888.6" r="3.0" fill="#fbfbfb"/>
<circle cx="813.1" cy="928.7" r="16.35" fill="#fff" stroke="#000" stroke-width="3.3"/><circle cx="808.1" cy="923.7" r="9.6" fill="#727272"/><circle cx="808.1" cy="923.7" r="6.1" fill="#b2b2b2"/><circle cx="808.1" cy="923.7" r="3.0" fill="#fbfbfb"/>
<circle cx="835.3" cy="973.1" r="16.35" fill="#fff" stroke="#000" stroke-width="3.3"/><circle cx="830.3" cy="968.1" r="9.6" fill="#727272"/><circle cx="830.3" cy="968.1" r="6.1" fill="#b2b2b2"/><circle cx="830.3" cy="968.1" r="3.0" fill="#fbfbfb"/>
<circle cx="857.6" cy="1011.2" r="16.35" fill="#fff" stroke="#000" stroke-width="3.3"/><circle cx="852.6" cy="1006.2" r="9.6" fill="#727272"/><circle cx="852.6" cy="1006.2" r="6.1" fill="#b2b2b2"/><circle cx="852.6" cy="1006.2" r="3.0" fill="#fbfbfb"/>
<circle cx="879.8" cy="1050.3" r="16.35" fill="#fff" stroke="#000" stroke-width="3.3"/><circle cx="874.8" cy="1045.3" r="9.6" fill="#727272"/><circle cx="874.8" cy="1045.3" r="6.1" fill="#b2b2b2"/><circle cx="874.8" cy="1045.3" r="3.0" fill="#fbfbfb"/>
<circle cx="902.1" cy="1048.6" r="16.35" fill="#fff" stroke="#000" stroke-width="3.3"/><circle cx="897.1" cy="1043.6" r="9.6" fill="#727272"/><circle cx="897.1" cy="1043.6" r="6.1" fill="#b2b2b2"/><circle cx="897.1" cy="1043.6" r="3.0" fill="#fbfbfb"/>
<circle cx="924.3" cy="1062.8" r="16.35" fill="#fff" stroke="#000" stroke-width="3.3"/><circle cx="919.3" cy="1057.8" r="9.6" fill="#727272"/><circle cx="919.3" cy="1057.8" r="6.1" fill="#b2b2b2"/><circle cx="919.3" cy="1057.8" r="3.0" fill="#fbfbfb"/>
<circle cx="946.6" cy="1087.4" r="16.35" fill="#fff" stroke="#000" stroke-width="3.3"/><circle cx="941.6" cy="1082.4" r="9.6" fill="#727272"/><circle cx="941.6" cy="1082.4" r="6.1" fill="#b2b2b2"/><circle cx="941.6" cy="1082.4" r="3.0" fill="#fbfbfb"/>
<circle cx="968.8" cy="1089.6" r="16.35" fill="#fff" stroke="#000" stroke-width="3.3"/><circle cx="963.8" cy="1084.6" r="9.6" fill="#727272"/><circle cx="963.8" cy="1084.6" r="6.1" fill="#b2b2b2"/><circle cx="963.8" cy="1084.6" r="3.0" fill="#fbfbfb"/>
<circle cx="991.1" cy="1084.5" r="16.35" fill="#fff" stroke="#000" stroke-width="3.3"/><circle cx="986.1" cy="1079.5" r="9.6" fill="#727272"/><circle cx="986.1" cy="1079.5" r="6.1" fill="#b2b2b2"/><circle cx="986.1" cy="1079.5" r="3.0" fill="#fbfbfb"/>
<circle cx="1013.3" cy="1089.6" r="16.35" fill="#fff" stroke="#000" stroke-width="3.3"/><circle cx="1008.3" cy="1084.6" r="9.6" fill="#727272"/><circle cx="1008.3" cy="1084.6" r="6.1" fill="#b2b2b2"/><circle cx="1008.3" cy="1084.6" r="3.0" fill="#fbfbfb"/>
<circle cx="1035.6" cy="1093" r="16.35" fill="#fff" stroke="#000" stroke-width="3.3"/><circle cx="1030.6" cy="1088" r="9.6" fill="#727272"/><circle cx="1030.6" cy="1088" r="6.1" fill="#b2b2b2"/><circle cx="1030.6" cy="1088" r="3.0" fill="#fbfbfb"/>
<circle cx="1057.8" cy="1095.5" r="16.35" fill="#fff" stroke="#000" stroke-width="3.3"/><circle cx="1052.8" cy="1090.5" r="9.6" fill="#727272"/><circle cx="1052.8" cy="1090.5" r="6.1" fill="#b2b2b2"/><circle cx="1052.8" cy="1090.5" r="3.0" fill="#fbfbfb"/>
<circle cx="1080.1" cy="1098.1" r="16.35" fill="#fff" stroke="#000" stroke-width="3.3"/><circle cx="1075.1" cy="1093.1" r="9.6" fill="#727272"/><circle cx="1075.1" cy="1093.1" r="6.1" fill="#b2b2b2"/><circle cx="1075.1" cy="1093.1" r="3.0" fill="#fbfbfb"/>
<circle cx="1102.3" cy="1100.6" r="16.35" fill="#fff" stroke="#000" stroke-width="3.3"/><circle cx="1097.3" cy="1095.6" r="9.6" fill="#727272"/><circle cx="1097.3" cy="1095.6" r="6.1" fill="#b2b2b2"/><circle cx="1097.3" cy="1095.6" r="3.0" fill="#fbfbfb"/>
<circle cx="1124.5" cy="1095" r="16.35" fill="#fff" stroke="#000" stroke-width="3.3"/><circle cx="1119.5" cy="1090" r="9.6" fill="#727272"/><circle cx="1119.5" cy="1090" r="6.1" fill="#b2b2b2"/><circle cx="1119.5" cy="1090" r="3.0" fill="#fbfbfb"/>
<circle cx="1146.8" cy="1106.5" r="16.35" fill="#fff" stroke="#000" stroke-width="3.3"/><circle cx="1141.8" cy="1101.5" r="9.6" fill="#727272"/><circle cx="1141.8" cy="1101.5" r="6.1" fill="#b2b2b2"/><circle cx="1141.8" cy="1101.5" r="3.0" fill="#fbfbfb"/>
<circle cx="1169" cy="1099.4" r="16.35" fill="#fff" stroke="#000" stroke-width="3.3"/><circle cx="1164" cy="1094.4" r="9.6" fill="#727272"/><circle cx="1164" cy="1094.4" r="6.1" fill="#b2b2b2"/><circle cx="1164" cy="1094.4" r="3.0" fill="#fbfbfb"/>
<circle cx="1191.3" cy="1108.7" r="16.35" fill="#fff" stroke="#000" stroke-width="3.3"/><circle cx="1186.3" cy="1103.7" r="9.6" fill="#727272"/><circle cx="1186.3" cy="1103.7" r="6.1" fill="#b2b2b2"/><circle cx="1186.3" cy="1103.7" r="3.0" fill="#fbfbfb"/>
<circle cx="1213.5" cy="1102.8" r="16.35" fill="#fff" stroke="#000" stroke-width="3.3"/><circle cx="1208.5" cy="1097.8" r="9.6" fill="#727272"/><circle cx="1208.5" cy="1097.8" r="6.1" fill="#b2b2b2"/><circle cx="1208.5" cy="1097.8" r="3.0" fill="#fbfbfb"/>
<circle cx="1235.8" cy="1103" r="16.35" fill="#fff" stroke="#000" stroke-width="3.3"/><circle cx="1230.8" cy="1098" r="9.6" fill="#727272"/><circle cx="1230.8" cy="1098" r="6.1" fill="#b2b2b2"/><circle cx="1230.8" cy="1098" r="3.0" fill="#fbfbfb"/>
<circle cx="1258" cy="1084" r="16.35" fill="#fff" stroke="#000" stroke-width="3.3"/><circle cx="1253" cy="1079" r="9.6" fill="#727272"/><circle cx="1253" cy="1079" r="6.1" fill="#b2b2b2"/><circle cx="1253" cy="1079" r="3.0" fill="#fbfbfb"/>
<circle cx="1280.3" cy="1084" r="16.35" fill="#fff" stroke="#000" stroke-width="3.3"/><circle cx="1275.3" cy="1079" r="9.6" fill="#727272"/><circle cx="1275.3" cy="1079" r="6.1" fill="#b2b2b2"/><circle cx="1275.3" cy="1079" r="3.0" fill="#fbfbfb"/>
<circle cx="1302.5" cy="1086" r="16.35" fill="#fff" stroke="#000" stroke-width="3.3"/><circle cx="1297.5" cy="1081" r="9.6" fill="#727272"/><circle cx="1297.5" cy="1081" r="6.1" fill="#b2b2b2"/><circle cx="1297.5" cy="1081" r="3.0" fill="#fbfbfb"/>
<circle cx="1324.8" cy="1088.4" r="16.35" fill="#fff" stroke="#000" stroke-width="3.3"/><circle cx="1319.8" cy="1083.4" r="9.6" fill="#727272"/><circle cx="1319.8" cy="1083.4" r="6.1" fill="#b2b2b2"/><circle cx="1319.8" cy="1083.4" r="3.0" fill="#fbfbfb"/>
<circle cx="1347" cy="1091.8" r="16.35" fill="#fff" stroke="#000" stroke-width="3.3"/><circle cx="1342" cy="1086.8" r="9.6" fill="#727272"/><circle cx="1342" cy="1086.8" r="6.1" fill="#b2b2b2"/><circle cx="1342" cy="1086.8" r="3.0" fill="#fbfbfb"/>
<circle cx="1369.2" cy="1093.5" r="16.35" fill="#fff" stroke="#000" stroke-width="3.3"/><circle cx="1364.2" cy="1088.5" r="9.6" fill="#727272"/><circle cx="1364.2" cy="1088.5" r="6.1" fill="#b2b2b2"/><circle cx="1364.2" cy="1088.5" r="3.0" fill="#fbfbfb"/>
<circle cx="1391.5" cy="1091" r="16.35" fill="#fff" stroke="#000" stroke-width="3.3"/><circle cx="1386.5" cy="1086" r="9.6" fill="#727272"/><circle cx="1386.5" cy="1086" r="6.1" fill="#b2b2b2"/><circle cx="1386.5" cy="1086" r="3.0" fill="#fbfbfb"/>
<circle cx="1413.7" cy="1090.1" r="16.35" fill="#fff" stroke="#000" stroke-width="3.3"/><circle cx="1408.7" cy="1085.1" r="9.6" fill="#727272"/><circle cx="1408.7" cy="1085.1" r="6.1" fill="#b2b2b2"/><circle cx="1408.7" cy="1085.1" r="3.0" fill="#fbfbfb"/>
<circle cx="1436" cy="1087.6" r="16.35" fill="#fff" stroke="#000" stroke-width="3.3"/><circle cx="1431" cy="1082.6" r="9.6" fill="#727272"/><circle cx="1431" cy="1082.6" r="6.1" fill="#b2b2b2"/><circle cx="1431" cy="1082.6" r="3.0" fill="#fbfbfb"/>
<circle cx="1458.2" cy="1080.8" r="16.35" fill="#fff" stroke="#000" stroke-width="3.3"/><circle cx="1453.2" cy="1075.8" r="9.6" fill="#727272"/><circle cx="1453.2" cy="1075.8" r="6.1" fill="#b2b2b2"/><circle cx="1453.2" cy="1075.8" r="3.0" fill="#fbfbfb"/>
<circle cx="1480.5" cy="1072" r="16.35" fill="#fff" stroke="#000" stroke-width="3.3"/><circle cx="1475.5" cy="1067" r="9.6" fill="#727272"/><circle cx="1475.5" cy="1067" r="6.1" fill="#b2b2b2"/><circle cx="1475.5" cy="1067" r="3.0" fill="#fbfbfb"/>
<circle cx="1502.7" cy="1060.7" r="16.35" fill="#fff" stroke="#000" stroke-width="3.3"/><circle cx="1497.7" cy="1055.7" r="9.6" fill="#727272"/><circle cx="1497.7" cy="1055.7" r="6.1" fill="#b2b2b2"/><circle cx="1497.7" cy="1055.7" r="3.0" fill="#fbfbfb"/>
<circle cx="1525" cy="1043.3" r="16.35" fill="#fff" stroke="#000" stroke-width="3.3"/><circle cx="1520" cy="1038.3" r="9.6" fill="#727272"/><circle cx="1520" cy="1038.3" r="6.1" fill="#b2b2b2"/><circle cx="1520" cy="1038.3" r="3.0" fill="#fbfbfb"/>
<circle cx="1547.2" cy="1021.7" r="16.35" fill="#fff" stroke="#000" stroke-width="3.3"/><circle cx="1542.2" cy="1016.7" r="9.6" fill="#727272"/><circle cx="1542.2" cy="1016.7" r="6.1" fill="#b2b2b2"/><circle cx="1542.2" cy="1016.7" r="3.0" fill="#fbfbfb"/>
<circle cx="1569.5" cy="992.9" r="16.35" fill="#fff" stroke="#000" stroke-width="3.3"/><circle cx="1564.5" cy="987.9" r="9.6" fill="#727272"/><circle cx="1564.5" cy="987.9" r="6.1" fill="#b2b2b2"/><circle cx="1564.5" cy="987.9" r="3.0" fill="#fbfbfb"/>
<circle cx="1591.7" cy="957.7" r="16.35" fill="#fff" stroke="#000" stroke-width="3.3"/><circle cx="1586.7" cy="952.7" r="9.6" fill="#727272"/><circle cx="1586.7" cy="952.7" r="6.1" fill="#b2b2b2"/><circle cx="1586.7" cy="952.7" r="3.0" fill="#fbfbfb"/>
<circle cx="1614" cy="922.8" r="16.35" fill="#fff" stroke="#000" stroke-width="3.3"/><circle cx="1609" cy="917.8" r="9.6" fill="#727272"/><circle cx="1609" cy="917.8" r="6.1" fill="#b2b2b2"/><circle cx="1609" cy="917.8" r="3.0" fill="#fbfbfb"/>
<circle cx="1636.2" cy="889.8" r="16.35" fill="#fff" stroke="#000" stroke-width="3.3"/><circle cx="1631.2" cy="884.8" r="9.6" fill="#727272"/><circle cx="1631.2" cy="884.8" r="6.1" fill="#b2b2b2"/><circle cx="1631.2" cy="884.8" r="3.0" fill="#fbfbfb"/>
<circle cx="1658.4" cy="863.5" r="16.35" fill="#fff" stroke="#000" stroke-width="3.3"/><circle cx="1653.4" cy="858.5" r="9.6" fill="#727272"/><circle cx="1653.4" cy="858.5" r="6.1" fill="#b2b2b2"/><circle cx="1653.4" cy="858.5" r="3.0" fill="#fbfbfb"/>
<circle cx="1680.7" cy="827.8" r="16.35" fill="#fff" stroke="#000" stroke-width="3.3"/><circle cx="1675.7" cy="822.8" r="9.6" fill="#727272"/><circle cx="1675.7" cy="822.8" r="6.1" fill="#b2b2b2"/><circle cx="1675.7" cy="822.8" r="3.0" fill="#fbfbfb"/>
<circle cx="1702.9" cy="787.5" r="16.35" fill="#fff" stroke="#000" stroke-width="3.3"/><circle cx="1697.9" cy="782.5" r="9.6" fill="#727272"/><circle cx="1697.9" cy="782.5" r="6.1" fill="#b2b2b2"/><circle cx="1697.9" cy="782.5" r="3.0" fill="#fbfbfb"/>
<circle cx="1725.2" cy="756.1" r="16.35" fill="#fff" stroke="#000" stroke-width="3.3"/><circle cx="1720.2" cy="751.1" r="9.6" fill="#727272"/><circle cx="1720.2" cy="751.1" r="6.1" fill="#b2b2b2"/><circle cx="1720.2" cy="751.1" r="3.0" fill="#fbfbfb"/>
<circle cx="1747.4" cy="728" r="16.35" fill="#fff" stroke="#000" stroke-width="3.3"/><circle cx="1742.4" cy="723" r="9.6" fill="#727272"/><circle cx="1742.4" cy="723" r="6.1" fill="#b2b2b2"/><circle cx="1742.4" cy="723" r="3.0" fill="#fbfbfb"/>
<circle cx="1769.7" cy="701.7" r="16.35" fill="#fff" stroke="#000" stroke-width="3.3"/><circle cx="1764.7" cy="696.7" r="9.6" fill="#727272"/><circle cx="1764.7" cy="696.7" r="6.1" fill="#b2b2b2"/><circle cx="1764.7" cy="696.7" r="3.0" fill="#fbfbfb"/>
<circle cx="1791.9" cy="670" r="16.35" fill="#fff" stroke="#000" stroke-width="3.3"/><circle cx="1786.9" cy="665" r="9.6" fill="#727272"/><circle cx="1786.9" cy="665" r="6.1" fill="#b2b2b2"/><circle cx="1786.9" cy="665" r="3.0" fill="#fbfbfb"/>
<circle cx="1814.2" cy="666.5" r="16.35" fill="#fff" stroke="#000" stroke-width="3.3"/><circle cx="1809.2" cy="661.5" r="9.6" fill="#727272"/><circle cx="1809.2" cy="661.5" r="6.1" fill="#b2b2b2"/><circle cx="1809.2" cy="661.5" r="3.0" fill="#fbfbfb"/>
<circle cx="1836.4" cy="671.4" r="16.35" fill="#fff" stroke="#000" stroke-width="3.3"/><circle cx="1831.4" cy="666.4" r="9.6" fill="#727272"/><circle cx="1831.4" cy="666.4" r="6.1" fill="#b2b2b2"/><circle cx="1831.4" cy="666.4" r="3.0" fill="#fbfbfb"/>
<circle cx="1858.7" cy="674.8" r="16.35" fill="#fff" stroke="#000" stroke-width="3.3"/><circle cx="1853.7" cy="669.8" r="9.6" fill="#727272"/><circle cx="1853.7" cy="669.8" r="6.1" fill="#b2b2b2"/><circle cx="1853.7" cy="669.8" r="3.0" fill="#fbfbfb"/>
<circle cx="1880.9" cy="682.5" r="16.35" fill="#fff" stroke="#000" stroke-width="3.3"/><circle cx="1875.9" cy="677.5" r="9.6" fill="#727272"/><circle cx="1875.9" cy="677.5" r="6.1" fill="#b2b2b2"/><circle cx="1875.9" cy="677.5" r="3.0" fill="#fbfbfb"/>
<circle cx="1903.2" cy="709" r="16.35" fill="#fff" stroke="#000" stroke-width="3.3"/><circle cx="1898.2" cy="704" r="9.6" fill="#727272"/><circle cx="1898.2" cy="704" r="6.1" fill="#b2b2b2"/><circle cx="1898.2" cy="704" r="3.0" fill="#fbfbfb"/>
<circle cx="1925.4" cy="725.1" r="16.35" fill="#fff" stroke="#000" stroke-width="3.3"/><circle cx="1920.4" cy="720.1" r="9.6" fill="#727272"/><circle cx="1920.4" cy="720.1" r="6.1" fill="#b2b2b2"/><circle cx="1920.4" cy="720.1" r="3.0" fill="#fbfbfb"/>
<circle cx="1947.6" cy="737" r="16.35" fill="#fff" stroke="#000" stroke-width="3.3"/><circle cx="1942.6" cy="732" r="9.6" fill="#727272"/><circle cx="1942.6" cy="732" r="6.1" fill="#b2b2b2"/><circle cx="1942.6" cy="732" r="3.0" fill="#fbfbfb"/>
<circle cx="1969.9" cy="755.1" r="16.35" fill="#fff" stroke="#000" stroke-width="3.3"/><circle cx="1964.9" cy="750.1" r="9.6" fill="#727272"/><circle cx="1964.9" cy="750.1" r="6.1" fill="#b2b2b2"/><circle cx="1964.9" cy="750.1" r="3.0" fill="#fbfbfb"/>
<circle cx="1992.1" cy="783.5" r="16.35" fill="#fff" stroke="#000" stroke-width="3.3"/><circle cx="1987.1" cy="778.5" r="9.6" fill="#727272"/><circle cx="1987.1" cy="778.5" r="6.1" fill="#b2b2b2"/><circle cx="1987.1" cy="778.5" r="3.0" fill="#fbfbfb"/>
<circle cx="2014.4" cy="816.8" r="16.35" fill="#fff" stroke="#000" stroke-width="3.3"/><circle cx="2009.4" cy="811.8" r="9.6" fill="#727272"/><circle cx="2009.4" cy="811.8" r="6.1" fill="#b2b2b2"/><circle cx="2009.4" cy="811.8" r="3.0" fill="#fbfbfb"/>
<circle cx="2036.6" cy="857.3" r="16.35" fill="#fff" stroke="#000" stroke-width="3.3"/><circle cx="2031.6" cy="852.3" r="9.6" fill="#727272"/><circle cx="2031.6" cy="852.3" r="6.1" fill="#b2b2b2"/><circle cx="2031.6" cy="852.3" r="3.0" fill="#fbfbfb"/>
<circle cx="2058.9" cy="905.5" r="16.35" fill="#fff" stroke="#000" stroke-width="3.3"/><circle cx="2053.9" cy="900.5" r="9.6" fill="#727272"/><circle cx="2053.9" cy="900.5" r="6.1" fill="#b2b2b2"/><circle cx="2053.9" cy="900.5" r="3.0" fill="#fbfbfb"/>
<circle cx="2081.1" cy="951.8" r="16.35" fill="#fff" stroke="#000" stroke-width="3.3"/><circle cx="2076.1" cy="946.8" r="9.6" fill="#727272"/><circle cx="2076.1" cy="946.8" r="6.1" fill="#b2b2b2"/><circle cx="2076.1" cy="946.8" r="3.0" fill="#fbfbfb"/>
<circle cx="2103.4" cy="972.2" r="16.35" fill="#fff" stroke="#000" stroke-width="3.3"/><circle cx="2098.4" cy="967.2" r="9.6" fill="#727272"/><circle cx="2098.4" cy="967.2" r="6.1" fill="#b2b2b2"/><circle cx="2098.4" cy="967.2" r="3.0" fill="#fbfbfb"/>
<circle cx="2125.6" cy="993.6" r="16.35" fill="#fff" stroke="#000" stroke-width="3.3"/><circle cx="2120.6" cy="988.6" r="9.6" fill="#727272"/><circle cx="2120.6" cy="988.6" r="6.1" fill="#b2b2b2"/><circle cx="2120.6" cy="988.6" r="3.0" fill="#fbfbfb"/>
<circle cx="2147.9" cy="1035.1" r="16.35" fill="#fff" stroke="#000" stroke-width="3.3"/><circle cx="2142.9" cy="1030.1" r="9.6" fill="#727272"/><circle cx="2142.9" cy="1030.1" r="6.1" fill="#b2b2b2"/><circle cx="2142.9" cy="1030.1" r="3.0" fill="#fbfbfb"/>
<circle cx="2170.1" cy="1053.6" r="16.35" fill="#fff" stroke="#000" stroke-width="3.3"/><circle cx="2165.1" cy="1048.6" r="9.6" fill="#727272"/><circle cx="2165.1" cy="1048.6" r="6.1" fill="#b2b2b2"/><circle cx="2165.1" cy="1048.6" r="3.0" fill="#fbfbfb"/>
<circle cx="2192.4" cy="1067.4" r="16.35" fill="#fff" stroke="#000" stroke-width="3.3"/><circle cx="2187.4" cy="1062.4" r="9.6" fill="#727272"/><circle cx="2187.4" cy="1062.4" r="6.1" fill="#b2b2b2"/><circle cx="2187.4" cy="1062.4" r="3.0" fill="#fbfbfb"/>
<circle cx="2214.6" cy="1055.8" r="16.35" fill="#fff" stroke="#000" stroke-width="3.3"/><circle cx="2209.6" cy="1050.8" r="9.6" fill="#727272"/><circle cx="2209.6" cy="1050.8" r="6.1" fill="#b2b2b2"/><circle cx="2209.6" cy="1050.8" r="3.0" fill="#fbfbfb"/>
<circle cx="2236.8" cy="1059.6" r="16.35" fill="#fff" stroke="#000" stroke-width="3.3"/><circle cx="2231.8" cy="1054.6" r="9.6" fill="#727272"/><circle cx="2231.8" cy="1054.6" r="6.1" fill="#b2b2b2"/><circle cx="2231.8" cy="1054.6" r="3.0" fill="#fbfbfb"/>
<circle cx="2259.1" cy="1077.8" r="16.35" fill="#fff" stroke="#000" stroke-width="3.3"/><circle cx="2254.1" cy="1072.8" r="9.6" fill="#727272"/><circle cx="2254.1" cy="1072.8" r="6.1" fill="#b2b2b2"/><circle cx="2254.1" cy="1072.8" r="3.0" fill="#fbfbfb"/>
<circle cx="2281.3" cy="1091.5" r="16.35" fill="#fff" stroke="#000" stroke-width="3.3"/><circle cx="2276.3" cy="1086.5" r="9.6" fill="#727272"/><circle cx="2276.3" cy="1086.5" r="6.1" fill="#b2b2b2"/><circle cx="2276.3" cy="1086.5" r="3.0" fill="#fbfbfb"/>
</g>
<rect x="1217" y="61" width="98" height="1048" fill="#00ffff" stroke="#000" stroke-width="2"/>
<text transform="translate(1243.9 489.4) scale(0.965 1.04)" font-size="67">S</text>
<text transform="translate(1243.9 569.3) scale(0.965 1.04)" font-size="67">E</text>
<text transform="translate(1243.9 649.4) scale(0.965 1.04)" font-size="67">N</text>
<g stroke="#000" stroke-width="5" fill="none" stroke-linecap="butt">
<path d="M266.5 1114V60.5H2272.5V1114" stroke-linejoin="miter"/>
</g>
<g stroke="#000" stroke-width="5" fill="none" stroke-linecap="round">
<path d="M266.5 1111.5H245.5M266.5 980.5H255.5M266.5 848.5H245.5M266.5 717.5H255.5M266.5 586.5H245.5M266.5 455.5H255.5M266.5 323.5H245.5M266.5 192.5H255.5M266.5 60.5H245.5"/>
</g>
<text transform="translate(230.2 1129.1) scale(1.015 1.005)" font-size="55.6" text-anchor="end">0.00</text>
<text transform="translate(230.2 866) scale(1.015 1.005)" font-size="55.6" text-anchor="end">0.04</text>
<text transform="translate(230.2 603) scale(1.015 1.005)" font-size="55.6" text-anchor="end">0.08</text>
<text transform="translate(230.2 341) scale(1.015 1.005)" font-size="55.6" text-anchor="end">0.12</text>
<text transform="translate(230.2 78) scale(1.015 1.005)" font-size="55.6" text-anchor="end">0.16</text>
<text transform="translate(265.6 1192) scale(1.02718 1.005)" font-size="55.6" text-anchor="middle">-0.255</text>
<text transform="translate(599.93 1192) scale(1.02718 1.005)" font-size="55.6" text-anchor="middle">-0.170</text>
<text transform="translate(934.27 1192) scale(1.02718 1.005)" font-size="55.6" text-anchor="middle">-0.085</text>
<text transform="translate(1270.3 1192) scale(1.015 1.005)" font-size="55.6" text-anchor="middle">0.000</text>
<text transform="translate(1604.63 1192) scale(1.015 1.005)" font-size="55.6" text-anchor="middle">0.085</text>
<text transform="translate(1938.97 1192) scale(1.015 1.005)" font-size="55.6" text-anchor="middle">0.170</text>
<text transform="translate(2273.3 1192) scale(1.015 1.005)" font-size="55.6" text-anchor="middle">0.255</text>
<text transform="translate(1269.4 1261.7) scale(0.985 1.005)" font-size="67.2" text-anchor="middle">Mold width (mm)</text>
<text transform="translate(77 629.7) rotate(-90) scale(0.978 1.005)" font-size="67.2" text-anchor="middle">Horizontal velocity of meniscus (m/s)</text>
<path d="M283.5 101.4H322.5M369.5 101.4H408.6" stroke="#000" stroke-width="7" stroke-linecap="round" fill="none"/>
<circle cx="346" cy="101" r="18"/><circle cx="341" cy="96" r="9.6" fill="#727272"/><circle cx="341" cy="96" r="6.1" fill="#b2b2b2"/><circle cx="341" cy="96" r="3.0" fill="#fbfbfb"/>
<path d="M283.4 170.4H322.6M369.5 170.4H408.6" stroke="#000" stroke-width="3" stroke-linecap="round" fill="none"/>
<circle cx="346" cy="170" r="16.35" fill="#fff" stroke="#000" stroke-width="3.3"/><circle cx="341" cy="165" r="9.6" fill="#727272"/><circle cx="341" cy="165" r="6.1" fill="#b2b2b2"/><circle cx="341" cy="165" r="3.0" fill="#fbfbfb"/>
<text transform="translate(424.9 121) scale(1.011 1.0)" font-size="56">no oil</text>
<text transform="translate(425.9 190.2) scale(1.011 1.0)" font-size="56">3 mm thickness oil</text>
</svg></body></html>
